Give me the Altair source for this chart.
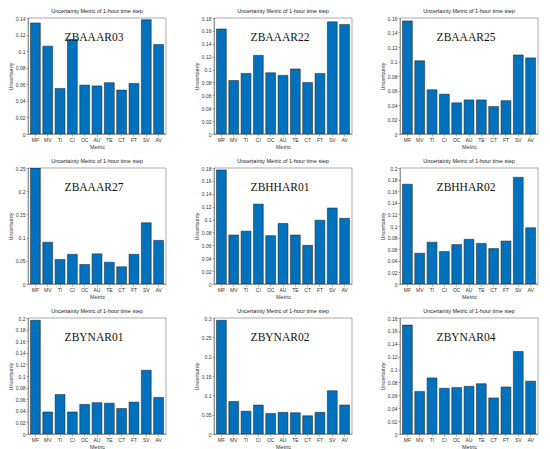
import altair as alt
import pandas as pd

metrics = ["MF", "MV", "TI", "CI", "OC", "AU", "TE", "CT", "FT", "SV", "AV"]
stations = ["ZBAAAR03", "ZBAAAR22", "ZBAAAR25",
            "ZBAAAR27", "ZBHHAR01", "ZBHHAR02",
            "ZBYNAR01", "ZBYNAR02", "ZBYNAR04"]

zbaaar03 = [0.134, 0.106, 0.055, 0.114, 0.059, 0.058, 0.062, 0.053, 0.061, 0.138, 0.108]
zbaaar22 = [0.163, 0.083, 0.094, 0.122, 0.095, 0.091, 0.101, 0.080, 0.094, 0.174, 0.170]
zbaaar25 = [0.156, 0.101, 0.061, 0.055, 0.043, 0.047, 0.047, 0.038, 0.046, 0.109, 0.105]
zbaaar27 = [0.250, 0.090, 0.053, 0.064, 0.042, 0.065, 0.047, 0.037, 0.064, 0.132, 0.094]
zbhhar01 = [0.177, 0.076, 0.082, 0.124, 0.075, 0.094, 0.076, 0.060, 0.099, 0.118, 0.102]
zbhhar02 = [0.172, 0.053, 0.072, 0.056, 0.068, 0.077, 0.070, 0.061, 0.074, 0.184, 0.097]
zbynar01 = [0.196, 0.038, 0.068, 0.038, 0.051, 0.054, 0.053, 0.044, 0.055, 0.110, 0.063]
zbynar02 = [0.294, 0.084, 0.059, 0.075, 0.053, 0.056, 0.055, 0.047, 0.056, 0.112, 0.075]
zbynar04 = [0.169, 0.066, 0.087, 0.071, 0.072, 0.074, 0.078, 0.056, 0.073, 0.128, 0.082]
series = [zbaaar03, zbaaar22, zbaaar25, zbaaar27, zbhhar01, zbhhar02,
          zbynar01, zbynar02, zbynar04]

y_max = [0.14, 0.18, 0.16, 0.25, 0.18, 0.2, 0.2, 0.3, 0.18]
y_step = [0.02, 0.02, 0.02, 0.05, 0.02, 0.02, 0.02, 0.05, 0.02]

title_text = "Uncertainty Metric of 1-hour time step"
PW, PH = 138, 116


def panel(i):
    df = pd.DataFrame({"Metric": metrics, "Uncertainty": series[i]})
    n = int(round(y_max[i] / y_step[i]))
    ticks = [round(k * y_step[i], 4) for k in range(n + 1)]
    bars = alt.Chart(df).mark_bar(
        color="#0072BD", stroke="#1b1b1b", strokeWidth=0.5, clip=True
    ).encode(
        x=alt.X("Metric:N", sort=metrics,
                scale=alt.Scale(paddingInner=0.2, paddingOuter=0.2),
                axis=alt.Axis(title="Metric", labelAngle=0)),
        y=alt.Y("Uncertainty:Q",
                scale=alt.Scale(domain=[0, y_max[i]], nice=False),
                axis=alt.Axis(values=ticks, format="~g", title="Uncertainty")),
    )
    label = alt.Chart(pd.DataFrame({"station": [stations[i]]})).mark_text(
        font="Liberation Serif", fontSize=11.5, color="#111111"
    ).encode(text="station:N", x=alt.value(PW / 2 - 3), y=alt.value(20))
    return alt.layer(bars, label).properties(
        width=PW, height=PH,
        title=alt.TitleParams(title_text),
    )


rows = [alt.hconcat(*[panel(r * 3 + c) for c in range(3)], spacing=27) for r in range(3)]
chart = alt.vconcat(*rows, spacing=8).properties(padding=0).configure_axis(
    labelFont="Liberation Sans", titleFont="Liberation Sans",
    labelFontSize=5, titleFontSize=5.5, titleFontWeight="normal",
    labelColor="#333333", titleColor="#333333",
    domainColor="#555555", tickColor="#555555", domainWidth=0.5, tickWidth=0.5,
    tickSize=2, labelPadding=1, titlePadding=2, grid=False,
).configure_view(stroke="#555555", strokeWidth=0.5).configure_title(
    font="Liberation Sans", fontSize=5.5, fontWeight="normal", color="#222222", offset=2
)

chart.save("out.html", embed_options={"renderer": "svg", "actions": False})
